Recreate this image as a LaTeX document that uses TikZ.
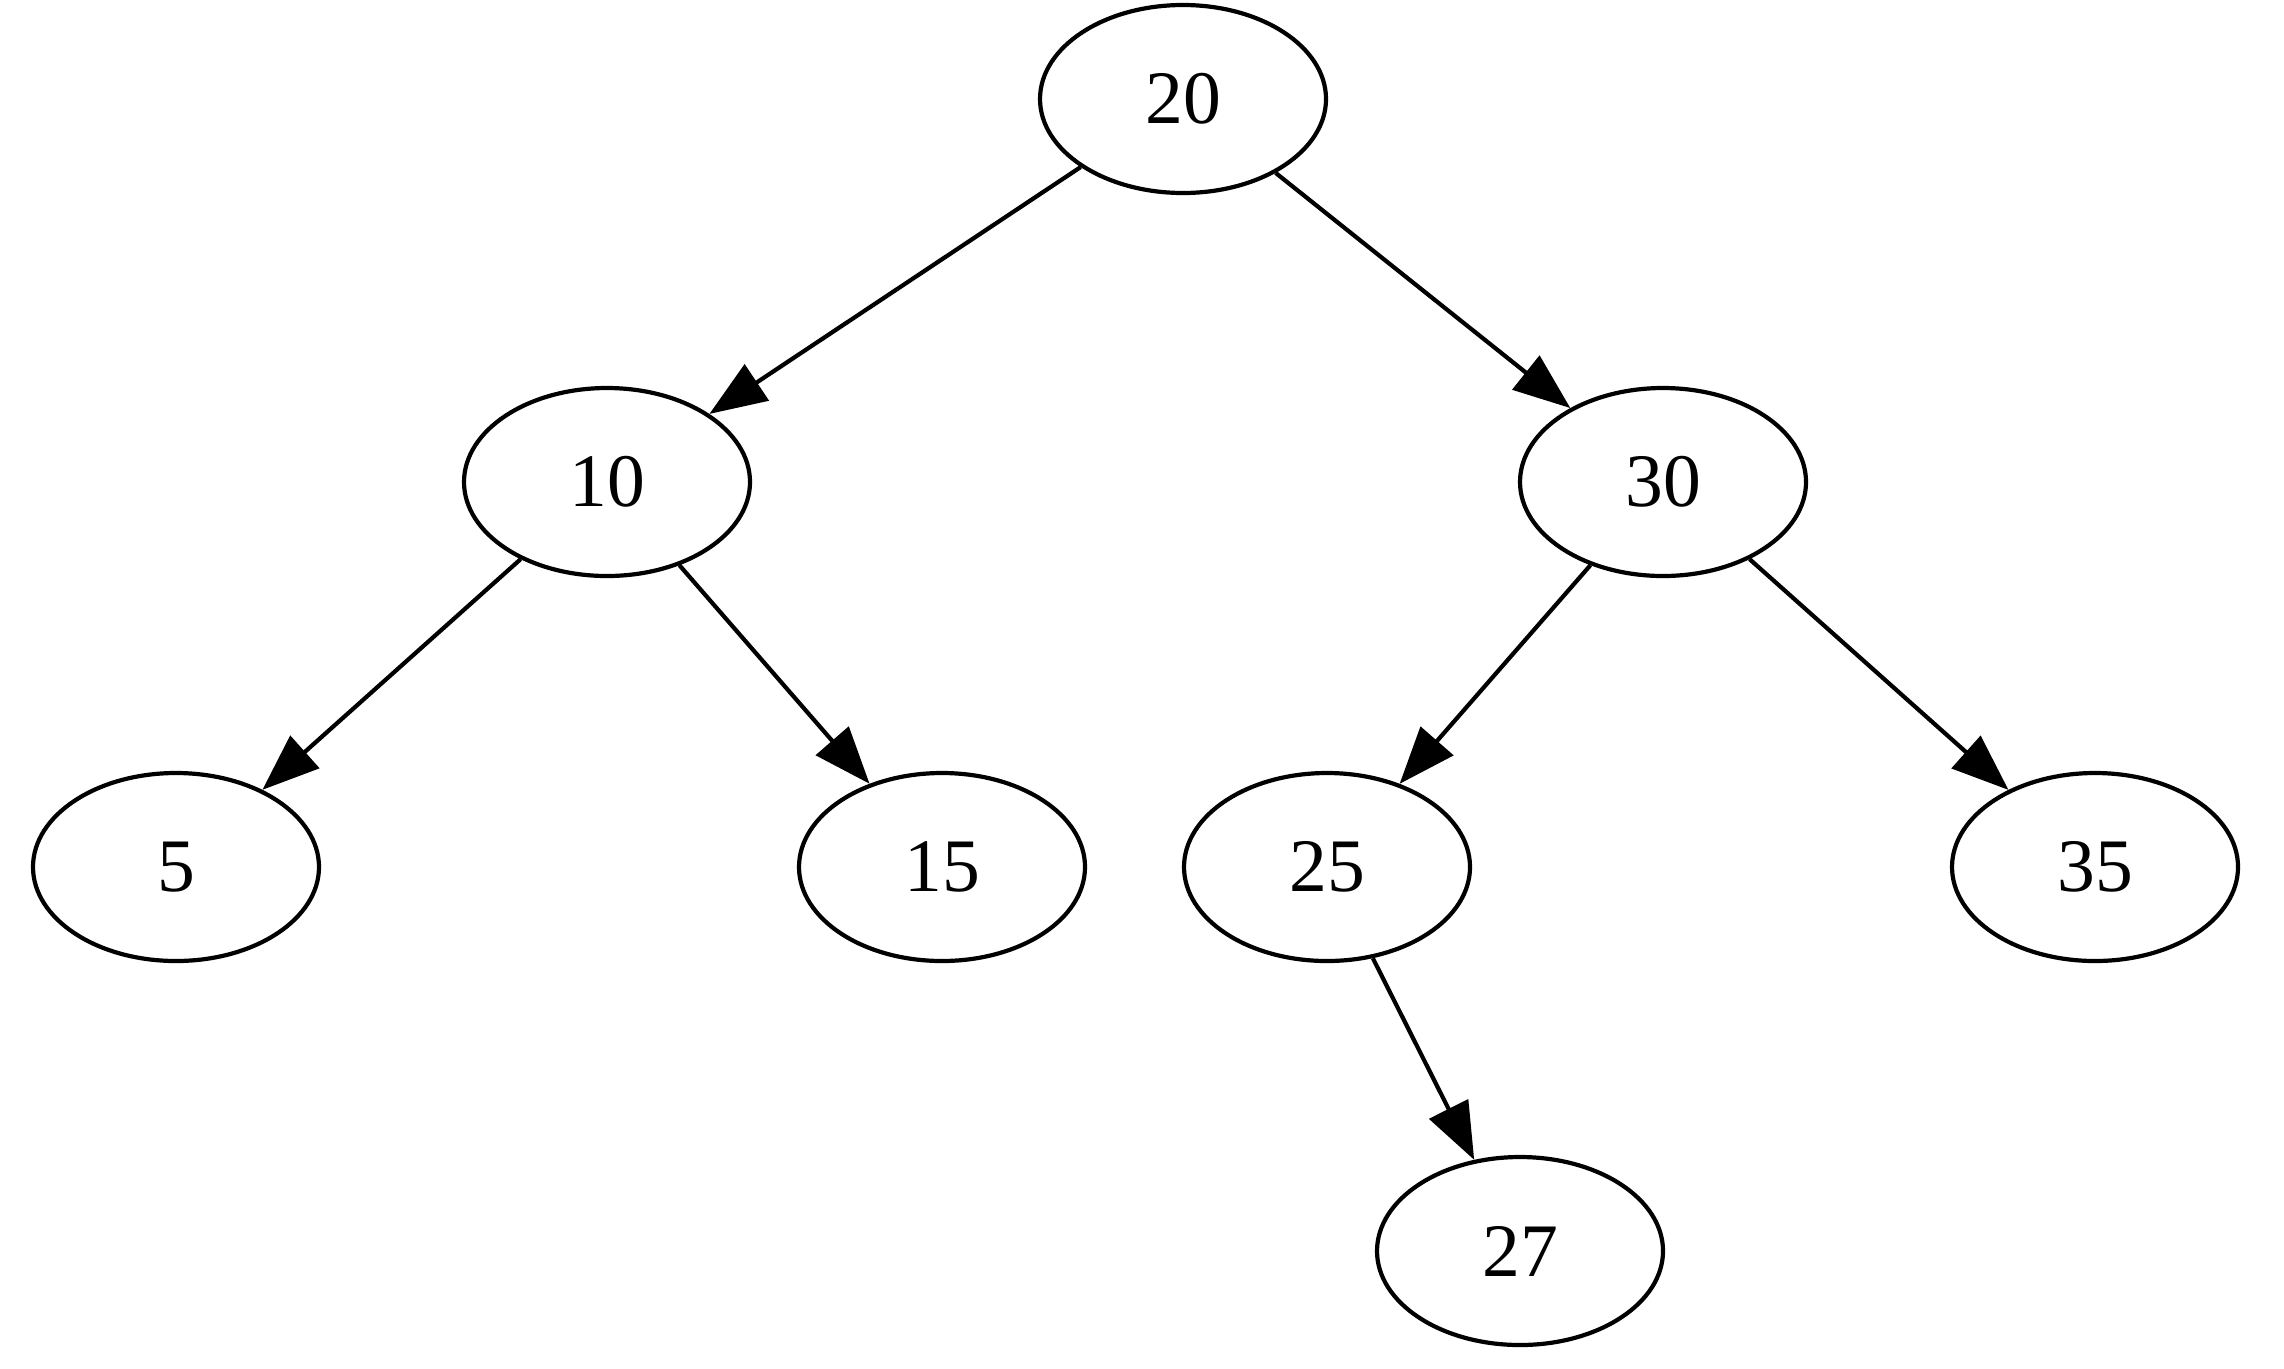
\documentclass[tikz,border=0pt]{standalone}
\usepackage{fontspec}
\setmainfont{Liberation Serif}
\usetikzlibrary{shapes.geometric,arrows.meta}
\begin{document}
\begin{tikzpicture}[
  treenode/.style={draw, ellipse, line width=0.042cm, inner sep=0pt,
    minimum width=2.86cm, minimum height=1.88cm,
    font=\fontsize{21.5pt}{25pt}\selectfont},
  edge/.style={draw, line width=0.042cm,
    -{Triangle[length=0.57cm, width=0.43cm]}}
]
\useasboundingbox (0,0) rectangle (22.84,-13.68);

% tree nodes
\node[treenode] (n20) at (11.83,-0.99) {20};
\node[treenode] (n10) at (6.07,-4.82) {10};
\node[treenode] (n30) at (16.63,-4.82) {30};
\node[treenode] (n5)  at (1.76,-8.67) {5};
\node[treenode] (n15) at (9.42,-8.67) {15};
\node[treenode] (n25) at (13.27,-8.67) {25};
\node[treenode] (n35) at (20.95,-8.67) {35};
\node[treenode] (n27) at (15.20,-12.51) {27};

% parent -> child edges
\path[edge] (n20) -- (n10);
\path[edge] (n20) -- (n30);
\path[edge] (n10) -- (n5);
\path[edge] (n10) -- (n15);
\path[edge] (n30) -- (n25);
\path[edge] (n30) -- (n35);
\path[edge] (n25) -- (n27);
\end{tikzpicture}
\end{document}
